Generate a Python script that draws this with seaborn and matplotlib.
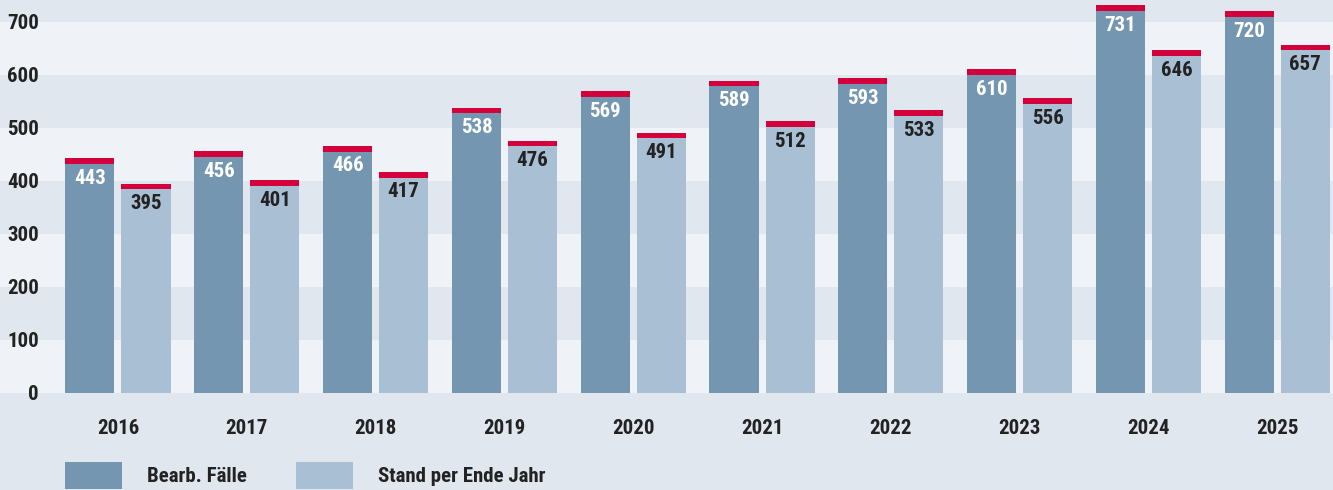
import pandas as pd
import matplotlib.pyplot as plt
import seaborn as sns
from matplotlib.patches import Rectangle
from matplotlib import font_manager

# --- data ---
years = ['2016', '2017', '2018', '2019', '2020', '2021', '2022', '2023', '2024', '2025']
bearb_faelle = [443, 456, 466, 538, 569, 589, 593, 610, 731, 720]
stand_ende_jahr = [395, 401, 417, 476, 491, 512, 533, 556, 646, 657]
series_names = ['Bearb. Fälle', 'Stand per Ende Jahr']

df = pd.DataFrame({
    'Jahr': years * 2,
    'Wert': bearb_faelle + stand_ende_jahr,
    'Serie': [series_names[0]] * len(years) + [series_names[1]] * len(years),
})

# --- style ---
BG_DARK = '#e0e7ef'
BG_LIGHT = '#eff3f8'
BAR_DARK = '#7596b0'
BAR_LIGHT = '#a9bfd4'
RED = '#d4003b'
TXT = '#222222'

installed = {f.name for f in font_manager.fontManager.ttflist}
narrow = [n for n in ['Liberation Sans Narrow', 'Roboto Condensed', 'DejaVu Sans Condensed',
                      'Open Sans Condensed', 'Liberation Sans'] if n in installed]

sns.set_style('white')
plt.rcParams['font.family'] = narrow[:1] + ['DejaVu Sans']
plt.rcParams['font.weight'] = 'bold'

fig = plt.figure(figsize=(13.33, 4.9), dpi=100, facecolor=BG_DARK)
ax = fig.add_axes([0, 1 - 393 / 490, 1, 393 / 490])
ax.set_facecolor(BG_DARK)

# alternating bands
for lo in range(0, 700, 200):
    ax.axhspan(lo, lo + 100, color=BG_LIGHT, zorder=0, lw=0)

sns.barplot(data=df, x='Jahr', y='Wert', hue='Serie',
            palette=[BAR_DARK, BAR_LIGHT], width=0.87, gap=0.125,
            saturation=1, linewidth=0, edgecolor='none', ax=ax, zorder=2)

# red caps + value labels
for i, container in enumerate(ax.containers):
    color = 'white' if i == 0 else TXT
    for patch in container:
        h = patch.get_height()
        ax.add_patch(Rectangle((patch.get_x(), h - 11), patch.get_width(), 11,
                               color=RED, lw=0, zorder=3))
        ax.annotate(f'{h:.0f}', (patch.get_x() + patch.get_width() / 2, h),
                    xytext=(0, -14.5), textcoords='offset points',
                    ha='center', va='center', color=color,
                    fontsize=15, fontweight='bold', zorder=4)

ax.set_ylim(0, 741)
ax.set_xlim(-0.916, 9.433)
ax.set_yticks(range(0, 701, 100))
ax.set_xlabel('')
ax.set_ylabel('')
for s in ax.spines.values():
    s.set_visible(False)
ax.tick_params(axis='y', length=0, pad=-28, labelsize=15, labelcolor=TXT)
ax.tick_params(axis='x', length=0, pad=19, labelsize=15, labelcolor=TXT)
for lbl in ax.get_xticklabels() + ax.get_yticklabels():
    lbl.set_fontweight('bold')

sns.move_legend(ax, 'upper left', bbox_to_anchor=(65 / 1333, 1 - 462 / 490),
                bbox_transform=fig.transFigure, ncol=2, frameon=False, title=None,
                fontsize=15, handlelength=2.75, handleheight=1.6,
                handletextpad=1.2, columnspacing=2.35, borderpad=0,
                borderaxespad=0)
for t in ax.get_legend().get_texts():
    t.set_fontweight('bold')
    t.set_color(TXT)
for hnd in ax.get_legend().legend_handles:
    hnd.set_linewidth(0)

fig.savefig('out.png', dpi=100, facecolor=BG_DARK)
